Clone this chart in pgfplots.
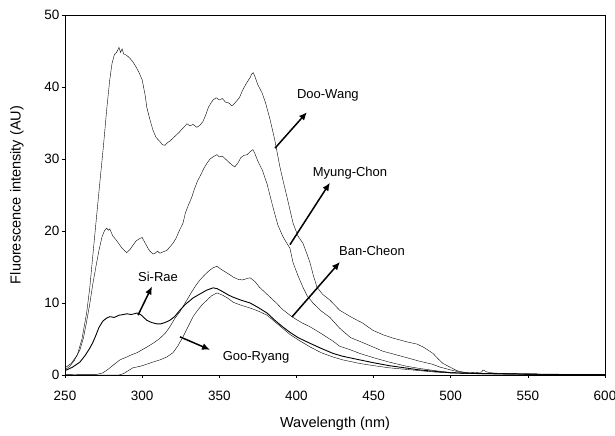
\documentclass[border=0pt]{standalone}
\usepackage{pgfplots}
\pgfplotsset{compat=1.18}
\usepackage{fontspec}
\setmainfont{Liberation Sans}
\usetikzlibrary{arrows.meta}
\begin{document}
\begin{tikzpicture}
\begin{axis}[
  name=ax,
  scale only axis,
  width=540pt, height=360pt,
  xmin=250, xmax=600, ymin=0, ymax=50,
  xtick={250,300,...,600}, ytick={0,10,...,50},
  tick pos=left, tick align=outside, major tick length=3pt,
  /pgf/number format/assume math mode=true,
  ticklabel style={font=\fontsize{13.5}{15}\selectfont},
  xticklabel shift=10pt,
  yticklabel shift=-1pt,
  axis line style={line width=0.9pt},
  every tick/.style={line width=0.6pt, black},
  xlabel={Wavelength (nm)},
  ylabel={Fluorescence intensity (AU)},
  label style={font=\fontsize{14.5}{16}\selectfont},
  xlabel style={at={(axis description cs:0.5,-0.136)}, anchor=center},
  ylabel style={at={(axis description cs:-0.089,0.5)}, anchor=center},
  cycle list={{black, mark=none, line width=0.9pt, line join=round}},
]
% Doo-Wang
\addplot coordinates {
(250,1.0)(254,1.6)(258,2.8)(261,5)(264,8.6)(266,12)(268,16.5)(270,21)(272.7,27)(275,32)(277,36.8)(279,41)(280.5,43.3)(282,44.5)(283.7,44.9)(285,45.5)(286,44.8)(287,45.3)(288,44.6)(290,44.4)(292,44.0)(294,43.5)(296,42.8)(298,42)(300,41)(302,38.8)(303,37.2)(305,35.5)(307,34)(309,33)(311.6,32.4)(313,32.0)(314.8,31.9)(316,32.2)(318,32.5)(320,32.9)(322,33.3)(324,33.7)(326,34.2)(328,34.6)(329,34.9)(331,34.6)(333,34.8)(335.5,34.4)(337.5,34.7)(339.4,35.2)(341,36)(343,37.2)(345,37.9)(346,38.2)(348,38.5)(350,38.2)(352,38.4)(354,37.9)(356,37.8)(358,37.4)(359,37.5)(361,38)(363,38.5)(365,39.5)(367,40.3)(369,41)(370,41.3)(371,41.8)(372,42)(373,41.5)(375,40.3)(377.7,39.2)(380,37.8)(383,35.4)(386,32.6)(389.3,28.9)(391,27.3)(393.9,24.7)(397.8,21.1)(401,19.3)(404.2,18.3)(406.5,17)(408.8,15.6)(411,13.8)(413.3,12.2)(417,11.2)(421.7,10.4)(428,9.0)(435,8.1)(443,7.2)(449.6,6.2)(456,5.6)(463,5.1)(471.6,4.6)(478,4.3)(482,3.9)(485,3.5)(488.5,3.0)(492,2.2)(495,1.6)(499.5,1.1)(504,0.6)(508,0.4)(512,0.3)(516,0.35)(520,0.4)(521,0.7)(523,0.45)(526,0.3)(530,0.25)(540,0.2)(550,0.15)(560,0.1)(575,0.1)(590,0.05)(600,0.05)
};
% Myung-Chon
\addplot coordinates {
(250,0.7)(253,1.2)(256,2.0)(259.7,3.5)(262,5.2)(264,7.4)(266,9.8)(268,12.6)(270,15.0)(272,17.3)(274,19.2)(275.5,20.0)(277,20.4)(278,20.1)(279,20.3)(281,19.3)(283,18.8)(285,18.2)(287,17.6)(289,17.2)(290,17.0)(292,17.4)(294,18.0)(296,18.6)(298,18.9)(300,19.1)(302,18.3)(303.8,17.6)(305,17.2)(307,16.8)(308.3,16.9)(310,17.2)(311.5,16.9)(313.5,17.1)(316,17.3)(318,17.8)(320,18.3)(322,19.0)(324,20.0)(326.5,21.1)(328,22.5)(330,23.6)(332,24.6)(334,25.9)(336,27.0)(338,27.8)(340,28.7)(342,29.4)(344,30.0)(346,30.3)(348.5,30.6)(350,30.3)(352,30.4)(354,30.0)(356,29.6)(358,29.2)(360,28.9)(362,29.4)(364,30.2)(366,30.5)(368,30.6)(370,31.0)(371.8,31.3)(373,30.8)(375,29.7)(378,28.4)(381,26.5)(384.8,23.3)(388,20.8)(391.3,19.2)(393.5,18.4)(395.8,17.6)(397.8,15.6)(401,13.8)(404.2,12.2)(407,11.0)(410.7,10.0)(416,8.9)(421.7,8.0)(428,6.5)(435,5.2)(443,4.5)(449.6,3.9)(456,3.3)(463,2.9)(471.6,2.4)(480,1.9)(488,1.5)(493,1.1)(500,0.7)(505,0.45)(510,0.3)(520,0.2)(530,0.2)(540,0.15)(560,0.1)(580,0.05)(600,0.05)
};
% Si-Rae
\addplot coordinates {
(250,0.6)(255,1.1)(259.7,1.8)(263,2.7)(266,3.7)(268,4.5)(270,5.5)(272,6.6)(274.6,7.5)(277,7.9)(279,8.1)(282,8.0)(285,8.3)(288,8.4)(290,8.5)(293,8.4)(296.7,8.6)(299,8.4)(301,8.0)(303,7.6)(306,7.3)(309.6,7.1)(312,7.1)(315,7.3)(318,7.6)(321,8.1)(324.5,9.0)(328,9.8)(333,10.7)(337,11.2)(342,11.8)(346,12.1)(348.5,12.0)(352,11.6)(356,11.1)(359,10.8)(364,10.4)(370,10.0)(375,9.4)(381,8.6)(386,7.6)(391,6.7)(396,5.9)(401,5.2)(408.8,4.4)(416,3.7)(423.7,3.0)(430,2.6)(441,2.1)(450,1.7)(460,1.3)(470,1.0)(480,0.7)(490,0.5)(500,0.3)(510,0.25)(520,0.2)(540,0.15)(560,0.1)(580,0.05)(600,0.05)
};
% Ban-Cheon
\addplot coordinates {
(250,0.1)(260,0.05)(270,0.05)(274.6,0.3)(278,0.8)(282,1.5)(285.6,2.1)(290,2.5)(293,2.8)(296.7,3.1)(300,3.5)(304,4.0)(307,4.4)(311,5.0)(315,5.8)(318,6.7)(321,7.8)(324.5,8.8)(327,9.7)(329,10.4)(332,11.5)(335,12.5)(337.5,13.2)(340,13.8)(343,14.4)(346,14.9)(348.5,15.1)(351,14.7)(354,14.3)(357,13.9)(359,13.6)(362,13.3)(365,13.2)(368,13.4)(370,13.5)(373,13.0)(376,12.2)(380,11.4)(383,10.8)(387,10.0)(391,9.1)(395.8,8.3)(400,7.7)(404,7.2)(408.8,6.7)(415,5.9)(423.7,4.7)(428,4.0)(435,3.5)(441,3.0)(450,2.4)(460,1.8)(471.6,1.2)(480,0.9)(490,0.6)(500,0.35)(510,0.25)(520,0.2)(540,0.15)(560,0.1)(580,0.05)(600,0.05)
};
% Goo-Ryang
\addplot coordinates {
(250,0)(285,0)(288,0.2)(291,0.6)(294,1.0)(298.6,1.2)(303,1.5)(307,1.8)(311.6,2.1)(316,2.5)(320,3.1)(323,4.0)(326.5,5.3)(330,6.8)(333,8.1)(336,9.0)(339,9.8)(342,10.4)(345,11.0)(348.5,11.4)(352,11.1)(356,10.6)(359,10.1)(364,9.7)(370,9.3)(375,8.9)(381,8.3)(386,7.4)(391,6.5)(396,5.6)(401,4.9)(408.8,3.9)(416,3.1)(423.7,2.5)(430,2.1)(441,1.6)(450,1.3)(460,1.0)(470,0.8)(480,0.6)(490,0.4)(500,0.3)(510,0.2)(520,0.15)(540,0.1)(560,0.08)(580,0.05)(600,0.05)
};
% annotations
\tikzset{ann/.style={font=\fontsize{13}{15}\selectfont, inner sep=0pt},
         arr/.style={line width=1.5pt, -{Latex[length=8pt,width=7pt]}}}
\node[ann] at (axis cs:420.4,38.9) {Doo-Wang};
\draw[arr] (axis cs:386.1,31.5) -- (axis cs:406.8,36.5);
\node[ann] at (axis cs:434.7,28.1) {Myung-Chon};
\draw[arr] (axis cs:395.8,18.1) -- (axis cs:421.7,26.7);
\node[ann] at (axis cs:449,17.2) {Ban-Cheon};
\draw[arr] (axis cs:397.1,8.06) -- (axis cs:428.2,15.7);
\node[ann] at (axis cs:310.3,13.6) {Si-Rae};
\draw[arr] (axis cs:297.3,8.3) -- (axis cs:306.4,12.3);
\node[ann] at (axis cs:373.8,2.5) {Goo-Ryang};
\draw[arr] (axis cs:324.5,5.3) -- (axis cs:344,3.5);
\end{axis}
\pgfresetboundingbox
\path[use as bounding box] ([shift={(-65pt,-61pt)}]ax.south west) rectangle ([shift={(10pt,15pt)}]ax.north east);
\end{tikzpicture}
\end{document}
